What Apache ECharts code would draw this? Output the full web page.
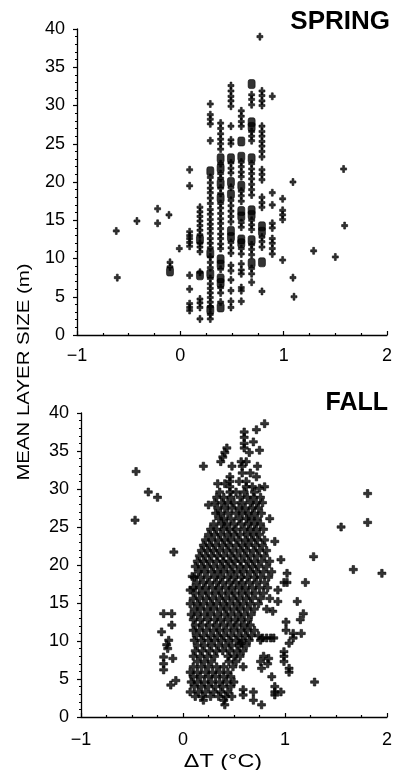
<!DOCTYPE html>
<html>
<head>
<meta charset="utf-8">
<script src="https://cdn.jsdelivr.net/npm/echarts@6/dist/echarts.min.js"></script>
<style>html,body{margin:0;padding:0;background:#fff;}#c{width:395px;height:770px;}</style>
</head>
<body>
<div id="c"></div>
<script>
// ---- DATA ----
const xTicks = [-1, 0, 1, 2];
const yTicks = [0, 5, 10, 15, 20, 25, 30, 35, 40];

// SPRING: columns of ΔT with layer sizes
const springCols = [
  [0.09, [21.6, 19.5, 13.5, 13.0, 12.6, 12.1, 11.6, 7.8, 6.0, 4.1, 3.6, 3.2]],
  [0.19, [16.7, 16.1, 15.5, 14.9, 14.3, 13.7, 13.1, 12.0, 11.5, 10.9, 8.2, 4.7, 4.2, 3.6, 2.1]],
  [0.29, [30.2, 28.8, 28.2, 27.6, 25.4, 20.6, 19.9, 19.2, 18.6, 17.9, 17.2, 16.4, 15.8, 15.1, 14.5, 13.9, 13.3, 12.6, 12.0, 11.4, 10.2, 9.5, 8.8, 7.4, 6.7, 6.1, 5.5, 4.9, 4.3, 3.7, 2.7, 2.1]],
  [0.39, [27.7, 27.0, 26.3, 25.6, 25.0, 24.3, 22.4, 21.1, 20.5, 19.2, 18.5, 17.2, 16.6, 15.9, 15.2, 14.6, 13.9, 13.2, 12.6, 11.9, 11.3, 8.6, 6.2, 5.5, 4.3]],
  [0.49, [32.6, 31.9, 31.2, 30.6, 29.9, 27.3, 25.5, 25.0, 22.5, 21.8, 21.2, 19.3, 17.6, 16.9, 16.2, 15.5, 14.8, 12.1, 11.4, 10.7, 9.1, 8.4, 7.2, 5.8, 4.4, 3.6]],
  [0.59, [29.3, 28.6, 27.9, 27.3, 22.6, 22.0, 21.3, 20.7, 18.8, 18.2, 17.5, 14.7, 14.1, 11.3, 10.6, 9.3, 8.5, 8.0, 6.2, 5.8, 4.4]],
  [0.69, [31.4, 30.8, 30.1, 26.6, 26.0, 25.4, 22.4, 21.7, 21.1, 20.4, 19.7, 19.0, 18.3, 15.0, 14.4, 13.8, 11.8, 11.2, 10.5, 8.7, 8.0, 6.9]],
  [0.79, [31.9, 31.3, 30.6, 30.0, 27.3, 26.6, 26.0, 25.3, 24.7, 24.0, 23.3, 21.6, 21.0, 20.3, 18.0, 17.3, 16.7, 12.8, 12.2, 11.5, 5.7]],
  [0.89, [31.2, 18.6, 17.0, 14.6, 14.0, 12.6, 12.0, 11.3, 10.6]],
  [0.99, [17.8, 16.3, 15.7, 15.1, 9.8]]
];
const springOther = [
  [0.77, 39.0], [1.09, 20.0], [1.09, 7.5], [1.10, 5.0], [1.29, 11.0], [1.50, 10.2],
  [1.58, 21.7], [1.59, 14.3], [-0.62, 13.6], [-0.61, 7.5], [-0.42, 14.9], [-0.22, 16.5],
  [-0.22, 14.6], [-0.11, 15.7], [-0.01, 11.3], [-0.10, 9.5], [-0.10, 8.9]
];
// SPRING: locations where many observations overlap
const springDense = [
  [0.19, 12.5], [0.19, 7.8], [0.29, 21.4], [0.29, 10.7], [0.29, 8.0], [0.29, 3.3],
  [0.39, 23.1], [0.39, 21.8], [0.39, 19.8], [0.39, 17.9], [0.39, 9.9], [0.39, 9.2], [0.39, 7.4], [0.39, 6.8], [0.39, 3.6],
  [0.49, 23.1], [0.49, 20.0], [0.49, 18.4], [0.49, 13.6], [0.49, 12.8],
  [0.59, 25.3], [0.59, 23.3], [0.59, 19.5], [0.59, 16.2], [0.59, 15.5], [0.59, 12.5], [0.59, 12.0],
  [0.69, 32.8], [0.69, 27.8], [0.69, 27.2], [0.69, 23.1], [0.69, 16.3], [0.69, 15.7], [0.69, 12.4], [0.69, 9.4],
  [0.79, 14.2], [0.79, 13.5], [0.79, 9.5], [-0.10, 8.3]
];

// FALL: rows of layer size with ΔT values
const fallRows = [
  [38.6, [0.80]], [37.8, [0.72]], [37.5, [0.60]], [36.8, [0.60]], [36.2, [0.69]], [36.0, [0.60]],
  [35.4, [0.43, 0.60]], [35.1, [0.75]], [34.8, [0.41, 0.65]], [34.2, [0.39]],
  [33.6, [0.37, 0.57, 0.62]], [33.0, [0.20, 0.48, 0.58, 0.73]], [32.1, [0.58, 0.66]],
  [31.6, [0.46, 0.72]], [31.0, [0.46, 0.55, 0.62]], [30.7, [0.34, 0.41]],
  [30.3, [0.46, 0.62, 0.68, 0.80]], [30.1, [0.75]], [29.6, [0.36, 0.46, 0.52, 0.60, 0.70]],
  [28.9, [0.33, 0.40, 0.47, 0.56, 0.63, 0.69, 0.76]],
  [28.2, [0.31, 0.38, 0.44, 0.50, 0.58, 0.66, 0.72, 0.78]], [27.9, [0.25]],
  [27.5, [0.34, 0.41, 0.48, 0.55, 0.61, 0.68, 0.74]],
  [26.8, [0.32, 0.37, 0.44, 0.52, 0.58, 0.64, 0.70, 0.77]],
  [26.1, [0.35, 0.40, 0.47, 0.55, 0.62, 0.67, 0.73, 0.85]],
  [25.4, [0.30, 0.38, 0.43, 0.50, 0.57, 0.64, 0.70, 0.76]],
  [24.7, [0.27, 0.33, 0.40, 0.46, 0.52, 0.60, 0.66, 0.72, 0.79]],
  [24.0, [0.25, 0.31, 0.37, 0.44, 0.50, 0.56, 0.63, 0.69, 0.75]],
  [23.3, [0.22, 0.28, 0.35, 0.41, 0.47, 0.54, 0.61, 0.67, 0.73, 0.80]], [23.1, [0.90]],
  [22.6, [0.20, 0.26, 0.32, 0.39, 0.45, 0.52, 0.58, 0.64, 0.71, 0.78]],
  [21.9, [0.18, 0.24, 0.30, 0.36, 0.43, 0.49, 0.56, 0.62, 0.69, 0.75, 0.82]], [21.7, [-0.09]],
  [21.2, [0.16, 0.22, 0.28, 0.34, 0.40, 0.47, 0.53, 0.60, 0.66, 0.73, 0.80]], [20.7, [0.96]],
  [20.5, [0.14, 0.20, 0.26, 0.33, 0.39, 0.45, 0.51, 0.57, 0.64, 0.70, 0.77, 0.85]],
  [19.8, [0.12, 0.18, 0.24, 0.30, 0.37, 0.43, 0.49, 0.56, 0.62, 0.68, 0.74, 0.82]],
  [19.1, [0.15, 0.21, 0.28, 0.34, 0.40, 0.47, 0.53, 0.59, 0.66, 0.72, 0.79, 0.87]], [18.9, [1.02]], [18.5, [0.09]],
  [18.4, [0.11, 0.17, 0.24, 0.31, 0.37, 0.44, 0.50, 0.57, 0.63, 0.70, 0.76, 0.84]],
  [17.7, [0.13, 0.20, 0.26, 0.33, 0.39, 0.46, 0.52, 0.58, 0.65, 0.72, 0.80, 0.99, 1.02, 1.20]],
  [17.0, [0.10, 0.16, 0.22, 0.29, 0.35, 0.42, 0.48, 0.55, 0.61, 0.68, 0.75, 0.83]], [16.7, [0.07, 0.93]],
  [16.3, [0.12, 0.19, 0.25, 0.32, 0.38, 0.45, 0.51, 0.58, 0.64, 0.71, 0.79]],
  [15.6, [0.10, 0.16, 0.23, 0.29, 0.36, 0.42, 0.49, 0.55, 0.62, 0.68, 0.76, 0.85]], [15.2, [0.93, 1.12]],
  [14.9, [0.07, 0.14, 0.20, 0.27, 0.33, 0.40, 0.46, 0.53, 0.59, 0.66, 0.74]],
  [14.2, [0.11, 0.17, 0.24, 0.30, 0.37, 0.43, 0.50, 0.56, 0.63, 0.70, 0.82]], [13.9, [0.88]],
  [13.6, [-0.19, -0.11, 1.18]],
  [13.5, [0.08, 0.14, 0.21, 0.27, 0.34, 0.41, 0.47, 0.54, 0.60, 0.67]],
  [12.8, [0.10, 0.17, 0.24, 0.31, 0.37, 0.44, 0.51, 0.57, 0.64, 1.15]], [12.5, [1.01]],
  [12.1, [-0.11, 0.12, 0.19, 0.26, 0.33, 0.40, 0.47, 0.53, 0.60, 0.66]],
  [11.4, [0.10, 0.16, 0.23, 0.30, 0.36, 0.43, 0.50, 0.57, 0.63, 0.70, 1.01]], [11.2, [-0.21]], [11.0, [1.08, 1.16]],
  [10.7, [0.13, 0.20, 0.27, 0.34, 0.40, 0.47, 0.54, 0.61, 0.67, 0.74]],
  [10.4, [0.78, 0.82, 0.86, 0.89, 1.08]],
  [10.1, [-0.14, 0.11, 0.18, 0.25, 0.31, 0.38, 0.45, 0.52, 0.58, 0.65, 0.76]],
  [9.7, [0.57, 1.04]], [9.5, [-0.16]],
  [9.4, [0.14, 0.21, 0.28, 0.35, 0.42, 0.48, 0.55, 0.62]], [9.0, [-0.15]],
  [8.7, [0.12, 0.19, 0.26, 0.33, 0.39, 0.46, 0.53, 0.59]], [8.6, [0.99]],
  [8.0, [0.10, 0.17, 0.24, 0.31, 0.44, 0.50, 0.56, 0.79, 0.99]], [7.9, [-0.19]], [7.7, [-0.10, 0.84]],
  [7.3, [0.14, 0.21, 0.28, 0.45, 0.52, 0.76, 0.99]], [7.0, [-0.19, 0.83]],
  [6.6, [0.10, 0.18, 0.25, 0.33, 0.40, 0.49, 0.59]], [6.4, [0.77, 1.04]], [6.2, [-0.19]],
  [5.9, [0.07, 0.14, 0.22, 0.29, 0.36, 0.44, 1.04]],
  [5.3, [0.10, 0.17, 0.25, 0.32, 0.40, 0.47, 0.87]], [4.8, [-0.07]],
  [4.6, [0.08, 0.14, 0.21, 0.28, 0.36, 0.43, 0.50, 1.29]], [4.2, [-0.12]],
  [4.0, [0.11, 0.18, 0.25, 0.32, 0.39, 0.47, 0.90]], [3.6, [0.59]],
  [3.3, [0.07, 0.15, 0.22, 0.30, 0.37, 0.44, 0.69, 0.90, 0.96]], [2.9, [0.59, 0.90]],
  [2.7, [0.12, 0.19, 0.27, 0.35, 0.42, 0.48]], [2.2, [0.20, 0.40, 0.69]], [1.6, [0.41, 0.77]]
];
const fallOther = [
  [-0.46, 32.3], [-0.34, 29.6], [-0.25, 28.9], [-0.47, 25.9], [1.81, 29.4], [1.81, 25.6],
  [1.55, 25.0], [1.28, 21.1], [1.67, 19.4], [1.95, 18.9]
];
const fallDense = [[0.69, 40.8]];

// ---- BUILD ----
const springPts = [];
springCols.forEach(c => c[1].forEach(y => springPts.push([c[0], y])));
springOther.forEach(p => springPts.push(p));
const fallPts = [];
fallRows.forEach(r => r[1].forEach(x => fallPts.push([x, r[0]])));
fallOther.forEach(p => fallPts.push(p));

const PLUS = 'path://M3.1,0H5.9V3.1H9V5.9H5.9V9H3.1V5.9H0V3.1H3.1Z';
const FONT = 'Liberation Sans';
const markStyle = {color: '#000', borderColor: '#000', borderWidth: 0.7};

function xAx(gi) {
  return {
    gridIndex: gi, type: 'value', min: -1, max: 2, interval: 1,
    axisLine: {show: true, onZero: false, lineStyle: {color: '#000', width: 1.3}},
    axisTick: {show: true, inside: true, length: 4, lineStyle: {color: '#000', width: 1.2}},
    minorTick: {show: true, splitNumber: 4, length: 2, lineStyle: {color: '#000', width: 1.2}},
    splitLine: {show: false},
    axisLabel: {color: '#000', fontFamily: FONT, fontSize: 18, margin: gi === 0 ? 12 : 14,
      formatter: v => (v < 0 ? '\u2212' + Math.abs(v) : String(v))}
  };
}
function yAx(gi) {
  return {
    gridIndex: gi, type: 'value', min: 0, max: 40, interval: 5,
    axisLine: {show: true, onZero: false, lineStyle: {color: '#000', width: 1.3}},
    axisTick: {show: true, inside: false, length: 4, lineStyle: {color: '#000', width: 1.2}},
    minorTick: {show: true, splitNumber: 5, length: 2, lineStyle: {color: '#000', width: 1.2}},
    splitLine: {show: false},
    axisLabel: {color: '#000', fontFamily: FONT, fontSize: 18, margin: 12}
  };
}

const chart = echarts.init(document.getElementById('c'), null, {renderer: 'canvas'});
chart.setOption({
  animation: false,
  backgroundColor: '#fff',
  grid: [
    {left: 77, top: 29, width: 310, height: 306},
    {left: 81, top: 413, width: 307, height: 304}
  ],
  xAxis: [xAx(0), xAx(1)],
  yAxis: [yAx(0), yAx(1)],
  series: [
    {type: 'scatter', xAxisIndex: 0, yAxisIndex: 0, data: springPts, symbol: PLUS, symbolSize: [6, 7],
      itemStyle: markStyle, silent: true},
    {type: 'scatter', xAxisIndex: 0, yAxisIndex: 0, data: springDense, symbol: 'roundRect', symbolSize: [7, 9],
      itemStyle: markStyle, silent: true},
    {type: 'scatter', xAxisIndex: 1, yAxisIndex: 1, data: fallPts, symbol: PLUS, symbolSize: [8, 8],
      itemStyle: markStyle, silent: true},
    {type: 'scatter', xAxisIndex: 1, yAxisIndex: 1, data: fallDense, symbol: 'roundRect', symbolSize: [9, 8],
      itemStyle: markStyle, silent: true}
  ],
  graphic: [
    {type: 'text', right: 5, top: 9, style: {text: 'SPRING', font: 'bold 26px "Liberation Sans"', fill: '#000'}},
    {type: 'text', right: 7, top: 391, style: {text: 'FALL', font: 'bold 25px "Liberation Sans"', fill: '#000'}},
    {type: 'text', x: 24, y: 372, rotation: Math.PI / 2, scaleX: 1.2,
      style: {text: 'MEAN LAYER SIZE (m)', font: '17px "Liberation Sans"', fill: '#000', align: 'center', verticalAlign: 'middle'}},
    {type: 'text', x: 223, y: 762, scaleX: 1.3,
      style: {text: '\u0394T (\u00b0C)', font: '18px "Liberation Sans"', fill: '#000', align: 'center', verticalAlign: 'middle'}}
  ]
});
</script>
</body>
</html>
